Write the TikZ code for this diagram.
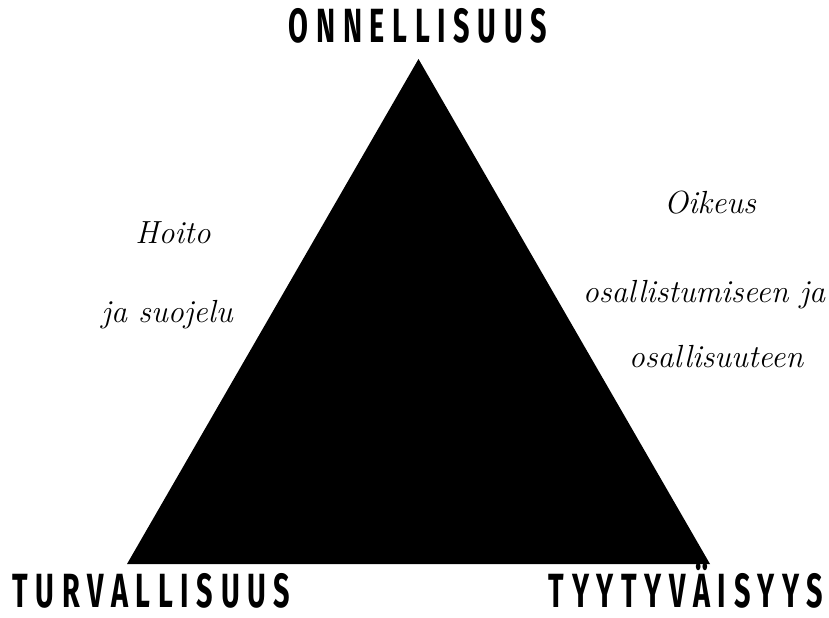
\documentclass[tikz,border=0pt]{standalone}
\usepackage{fontspec}
\usepackage{tikz}
\newfontfamily\capsfont[FakeStretch=0.6,LetterSpace=16]{Fira Sans}

\tikzset{
  corner/.style={font=\capsfont\bfseries\fontsize{24}{26}\selectfont, inner sep=0pt, anchor=base},
  side/.style={font=\itshape\fontsize{16}{18}\selectfont, inner sep=0pt, anchor=base}
}

\begin{document}
\begin{tikzpicture}[x=0.5pt,y=0.5pt]
                \useasboundingbox (0,0) rectangle (829,617);

                \fill (418.5,558) coordinate (top) -- (127,53) coordinate (bl) -- (710,53) coordinate (br) -- cycle;

                \node[corner] (onn) at (418,574) {ONNELLISUUS};
                \node[corner] (turva) at (151.5,10) {TURVALLISUUS};
                \node[corner] (tyyty) at (686,10) {TYYTYVÄISYYS};

                \node[side] (hoito) at (173,374) {Hoito};
                \node[side] (suoj) at (167,295) {ja suojelu};

                \node[side] (oik) at (710,404) {Oikeus};
                \node[side] (osal) at (704,315) {osallistumiseen ja};
                \node[side] (osuu) at (716,250) {osallisuuteen};
            \end{tikzpicture}
\end{document}
